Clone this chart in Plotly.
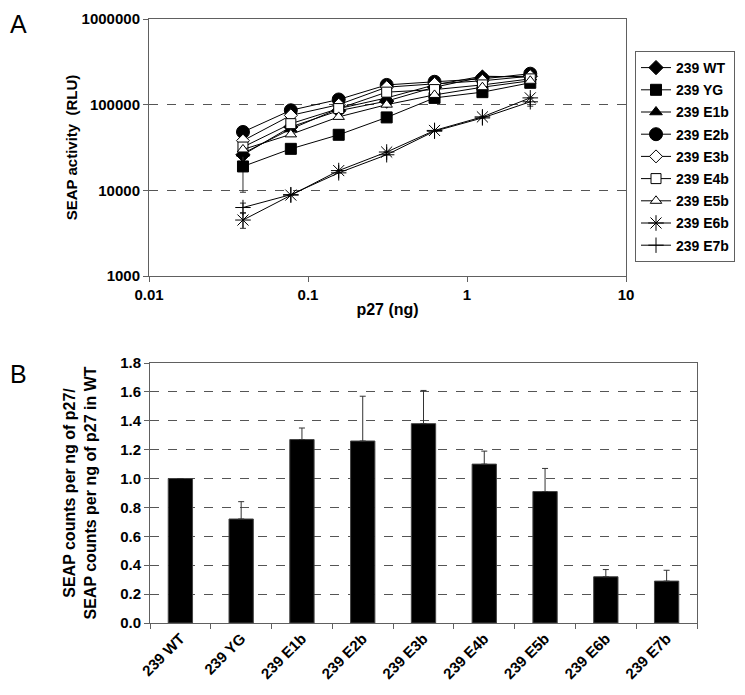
import plotly.graph_objects as go

# ---------------- Panel A data ----------------
p27_ng = [0.039, 0.078, 0.156, 0.3125, 0.625, 1.25, 2.5]
series_names = ["239 WT", "239 YG", "239 E1b", "239 E2b", "239 E3b",
                "239 E4b", "239 E5b", "239 E6b", "239 E7b"]
seap_wt  = [26000, 55000, 85000, 110000, 160000, 210000, 215000]
seap_yg  = [19000, 30500, 44500, 71000, 120000, 140000, 180000]
seap_e1b = [27000, 52000, 90000, 120000, 170000, 215000, 210000]
seap_e2b = [48000, 86000, 115000, 170000, 185000, 200000, 230000]
seap_e3b = [38000, 75000, 100000, 160000, 175000, 190000, 215000]
seap_e4b = [32000, 60000, 90000, 140000, 150000, 170000, 200000]
seap_e5b = [30000, 45000, 72000, 100000, 130000, 160000, 190000]
seap_e6b = [4500, 8800, 17000, 28000, 50000, 72000, 120000]
seap_e7b = [6300, 8900, 16000, 26000, 49000, 70000, 108000]
# error (symmetric where visible)
err_yg  = [9500, 0, 0, 0, 0, 0, 0]
err_e6b = [900, 0, 0, 0, 0, 0, 0]
err_e7b = [800, 0, 0, 0, 0, 0, 12000]

a_ytick_vals = [1000, 10000, 100000, 1000000]
a_ytick_text = ["1000", "10000", "100000", "1000000"]
a_xtick_vals = [0.01, 0.1, 1, 10]
a_xtick_text = ["0.01", "0.1", "1", "10"]

# ---------------- Panel B data ----------------
b_categories = ["239 WT", "239 YG", "239 E1b", "239 E2b", "239 E3b",
                "239 E4b", "239 E5b", "239 E6b", "239 E7b"]
b_values = [1.00, 0.72, 1.27, 1.26, 1.38, 1.10, 0.91, 0.32, 0.29]
b_errors = [0.0, 0.12, 0.08, 0.31, 0.23, 0.09, 0.16, 0.05, 0.075]
b_ytick_vals = [0.0, 0.2, 0.4, 0.6, 0.8, 1.0, 1.2, 1.4, 1.6, 1.8]
b_ytick_text = ["0.0", "0.2", "0.4", "0.6", "0.8", "1.0", "1.2", "1.4", "1.6", "1.8"]

FONT = "Liberation Sans, Arial, sans-serif"
AXC = "#606060"
W, H = 745, 695
OFF = 8  # page body margin


def px(x):
    return (x - OFF) / W


def py(y):
    return 1 - (y - OFF) / H


fig = go.Figure()

styles = [
    dict(symbol="diamond", size=11, color="black"),
    dict(symbol="square", size=11, color="black"),
    dict(symbol="triangle-up", size=11, color="black"),
    dict(symbol="circle", size=13, color="black"),
    dict(symbol="diamond", size=10, color="white"),
    dict(symbol="square", size=10, color="white"),
    dict(symbol="triangle-up", size=10, color="white"),
    dict(symbol="asterisk-open", size=13, color="black"),
    dict(symbol="cross-thin-open", size=11, color="black"),
]
values_all = [seap_wt, seap_yg, seap_e1b, seap_e2b, seap_e3b,
              seap_e4b, seap_e5b, seap_e6b, seap_e7b]
errs = {1: err_yg, 7: err_e6b, 8: err_e7b}

for i, (name, vals, st) in enumerate(zip(series_names, values_all, styles)):
    trace = dict(
        x=p27_ng, y=vals, name=name, mode="lines+markers",
        line=dict(color="black", width=1),
        marker=dict(symbol=st["symbol"], size=st["size"], color=st["color"],
                    line=dict(color="black", width=1)),
        xaxis="x", yaxis="y", legendgroup=name,
    )
    if i in errs:
        trace["error_y"] = dict(type="data", array=errs[i], arrayminus=errs[i],
                                symmetric=False, color="#333", thickness=1, width=3)
    fig.add_trace(go.Scatter(**trace))

fig.add_trace(go.Bar(
    x=b_categories, y=b_values, xaxis="x2", yaxis="y2", showlegend=False,
    marker=dict(color="black", line=dict(color="#444", width=1)),
    width=0.4,
    error_y=dict(type="data", array=b_errors, arrayminus=[0]*len(b_errors),
                 symmetric=False, color="#333", thickness=1, width=3),
))

tickfont = dict(family=FONT, size=15, color="black", weight="bold")
titlefont = dict(family=FONT, size=15, color="black", weight="bold")

fig.update_layout(
    width=W, height=H,
    margin=dict(l=0, r=0, t=0, b=0, autoexpand=False),
    paper_bgcolor="white", plot_bgcolor="white",
    font=dict(family=FONT, color="black"),
    showlegend=True,
    legend=dict(x=px(635), y=py(51), xanchor="left", yanchor="top",
                bordercolor=AXC, borderwidth=1, bgcolor="white",
                font=dict(family=FONT, size=14, color="black", weight="bold"),
                tracegroupgap=1, itemwidth=30),
    xaxis=dict(domain=[px(149), px(626)], anchor="y", type="log", automargin=False,
               range=[-2, 1], tickvals=a_xtick_vals, ticktext=a_xtick_text,
               ticks="outside", ticklen=5, tickcolor=AXC,
               showline=True, linecolor=AXC, linewidth=1, mirror=True,
               showgrid=False, zeroline=False, tickfont=tickfont,
               title=dict(text="p27 (ng)", font=dict(titlefont, size=16), standoff=1)),
    yaxis=dict(domain=[py(276), py(19)], anchor="x", type="log", automargin=False,
               range=[3, 6], tickvals=a_ytick_vals, ticktext=a_ytick_text,
               ticks="outside", ticklen=5, tickcolor=AXC,
               showline=True, linecolor=AXC, linewidth=1, mirror=True,
               showgrid=True, gridcolor="#555", griddash="dash", gridwidth=1,
               zeroline=False, tickfont=tickfont,
               title=dict(text="SEAP activity  (RLU)", font=titlefont, standoff=0)),
    xaxis2=dict(domain=[px(150), px(697)], anchor="y2", automargin=False,
                ticks="outside", ticklen=5, tickcolor=AXC, tickson="boundaries",
                showline=True, linecolor=AXC, linewidth=1, mirror=True,
                showgrid=False, tickangle=-45, tickfont=tickfont),
    yaxis2=dict(domain=[py(623), py(363)], anchor="x2", automargin=False,
                range=[0, 1.8], tickvals=b_ytick_vals, ticktext=b_ytick_text,
                ticks="outside", ticklen=5, tickcolor=AXC,
                showline=True, linecolor=AXC, linewidth=1, mirror=True,
                showgrid=True, gridcolor="#555", griddash="dash", gridwidth=1,
                zeroline=False, tickfont=tickfont,
                title=dict(text="SEAP counts per ng of p27/<br>SEAP counts per ng of p27 in WT",
                           font=dict(family=FONT, size=16, color="black", weight="bold"),
                           standoff=19)),
    bargap=0.6,
    annotations=[
        dict(text="A", x=px(18), y=py(8), xref="paper", yref="paper",
             xanchor="center", yanchor="top", showarrow=False,
             font=dict(family=FONT, size=25, color="black")),
        dict(text="B", x=px(18), y=py(374), xref="paper", yref="paper",
             xanchor="center", yanchor="middle", showarrow=False,
             font=dict(family=FONT, size=25, color="black")),
    ],
)

fig.write_html("out.html")
